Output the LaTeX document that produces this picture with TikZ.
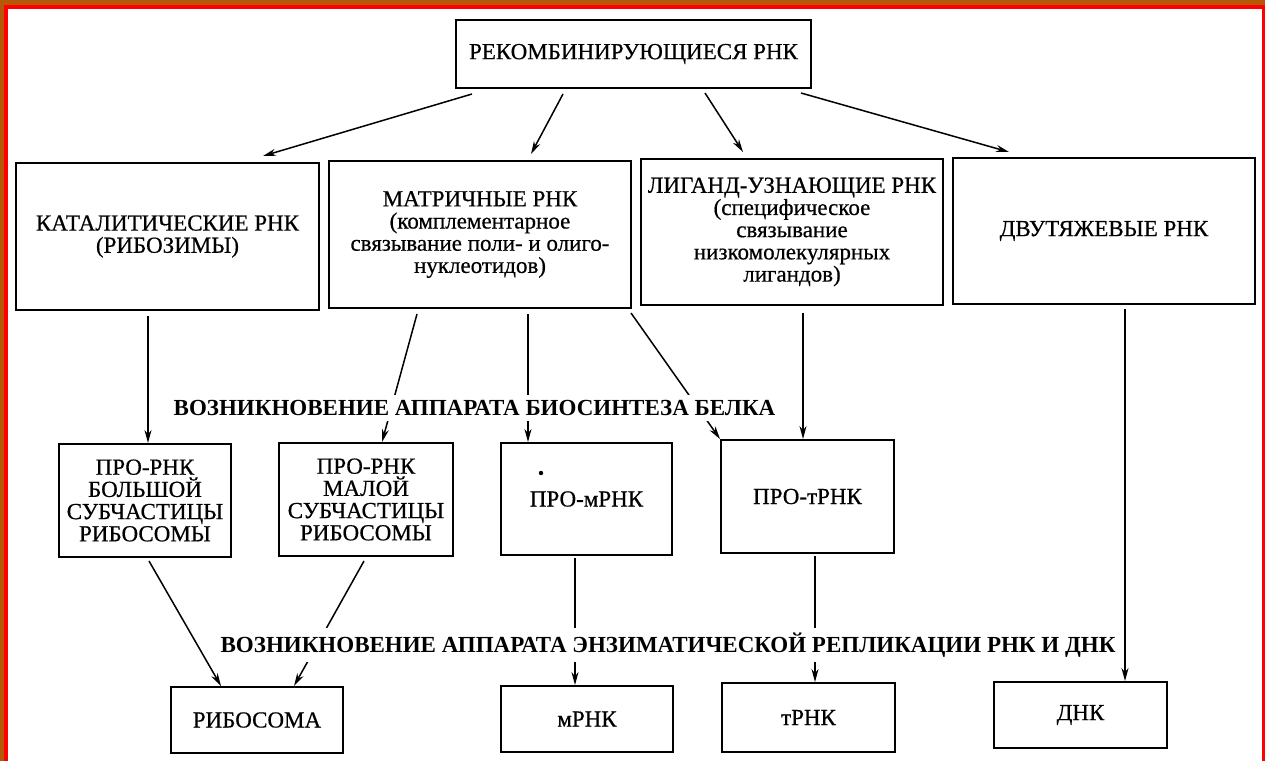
\documentclass[tikz,border=0pt]{standalone}
\usepackage{fontspec}
\setmainfont{Liberation Serif}[UprightFeatures={FakeBold=0.5}]
\newfontfamily\labelfont{Liberation Serif Bold}
\usetikzlibrary{arrows.meta}
\definecolor{slideorange}{RGB}{183,87,8}
\definecolor{framered}{RGB}{255,0,0}
\begin{document}
\begin{tikzpicture}[x=1pt,y=-1pt,
  box/.style={draw,line width=2pt,inner sep=0pt,align=center,font=\fontsize{23}{22.2}\selectfont},
  arr/.style={line width=1.5pt,-{Stealth[length=13pt,width=7pt]}},
  seclabel/.style={fill=white,inner xsep=2pt,inner ysep=5pt,font=\labelfont\fontsize{23}{22}\selectfont}]
\useasboundingbox (0,0) rectangle (1265,761);
\fill[slideorange] (0,0) rectangle (1265,761);
\fill[framered] (4,5) rectangle (1265,761);
\fill[white] (8,9) rectangle (1262,761);

% top
\node[box,minimum width=355pt,minimum height=68pt] (T) at (633.5,54) {РЕКОМБИНИРУЮЩИЕСЯ РНК};
% row 2
\node[box,minimum width=303pt,minimum height=147pt] (B1) at (167.5,236.5) {КАТАЛИТИЧЕСКИЕ РНК\\(РИБОЗИМЫ)};
\node[box,minimum width=302pt,minimum height=147pt] (B2) at (480,234.5) {МАТРИЧНЫЕ РНК\\(комплементарное\\связывание поли- и олиго-\\нуклеотидов)};
\node[box,minimum width=302pt,minimum height=146pt] (B3) at (792,232) {ЛИГАНД-УЗНАЮЩИЕ РНК\\(специфическое\\связывание\\низкомолекулярных\\лигандов)};
\node[box,minimum width=302pt,minimum height=146pt] (B4) at (1104,231) {ДВУТЯЖЕВЫЕ РНК};
% row 3
\node[box,minimum width=172pt,minimum height=113pt] (C1) at (145,500.5) {ПРО-РНК\\БОЛЬШОЙ\\СУБЧАСТИЦЫ\\РИБОСОМЫ};
\node[box,minimum width=174pt,minimum height=113pt] (C2) at (366,499.5) {ПРО-РНК\\МАЛОЙ\\СУБЧАСТИЦЫ\\РИБОСОМЫ};
\node[box,minimum width=171pt,minimum height=112pt] (C3) at (586.5,499) {ПРО-мРНК};
\node[box,minimum width=173pt,minimum height=113pt] (C4) at (807.5,496.5) {ПРО-тРНК};
% row 4
\node[box,minimum width=172pt,minimum height=66pt] (D1) at (257,720) {РИБОСОМА};
\node[box,minimum width=172pt,minimum height=66pt] (D2) at (587,719) {мРНК};
\node[box,minimum width=173pt,minimum height=69pt] (D3) at (808.5,717.5) {тРНК};
\node[box,minimum width=173pt,minimum height=66pt] (D4) at (1080.5,715) {ДНК};

\fill (541,473) circle (2.2pt);

% arrows from top
\draw[arr] ([xshift=17pt,yshift=-5pt]T.south west) -- ([xshift=95.5pt,yshift=6pt]B1.north);
\draw[arr] ([xshift=108pt,yshift=-5pt]T.south west) -- ([xshift=51pt,yshift=6pt]B2.north);
\draw[arr] ([xshift=250pt,yshift=-4pt]T.south west) -- ([xshift=-49pt,yshift=6pt]B3.north);
\draw[arr] ([xshift=-11pt,yshift=-4pt]T.south east) -- ([xshift=-95pt,yshift=5pt]B4.north);
% row 2 -> row 3
\draw[arr] ([xshift=-19.5pt,yshift=-5pt]B1.south) -- ([xshift=3pt]C1.north);
\draw[arr] ([xshift=-63pt,yshift=-5pt]B2.south) -- ([xshift=16pt]C2.north);
\draw[arr] ([xshift=48pt,yshift=-5pt]B2.south) -- ([xshift=-58.5pt]C3.north);
\draw[arr] ([xshift=-1pt,yshift=-4pt]B2.south east) -- (C4.north west);
\draw[arr] ([xshift=11pt,yshift=-7pt]B3.south) -- ([xshift=-4.5pt]C4.north);
\draw[arr] ([xshift=21pt,yshift=-4pt]B4.south) -- ([xshift=44.5pt]D4.north);
% row 3 -> row 4
\draw[arr] ([xshift=4pt,yshift=-3pt]C1.south) -- ([xshift=51pt]D1.north west);
\draw[arr] ([xshift=-2pt,yshift=-4pt]C2.south) -- ([xshift=37pt]D1.north);
\draw[arr] ([xshift=-11.5pt,yshift=-2pt]C3.south) -- ([xshift=-12pt]D2.north);
\draw[arr] ([xshift=7.5pt,yshift=-2pt]C4.south) -- ([xshift=6.5pt]D3.north);

% section labels
\node[seclabel] (L1) at (474.5,408) {ВОЗНИКНОВЕНИЕ АППАРАТА БИОСИНТЕЗА БЕЛКА};
\node[seclabel] (L2) at (668,645) {ВОЗНИКНОВЕНИЕ АППАРАТА ЭНЗИМАТИЧЕСКОЙ РЕПЛИКАЦИИ РНК И ДНК};
\end{tikzpicture}
\end{document}
